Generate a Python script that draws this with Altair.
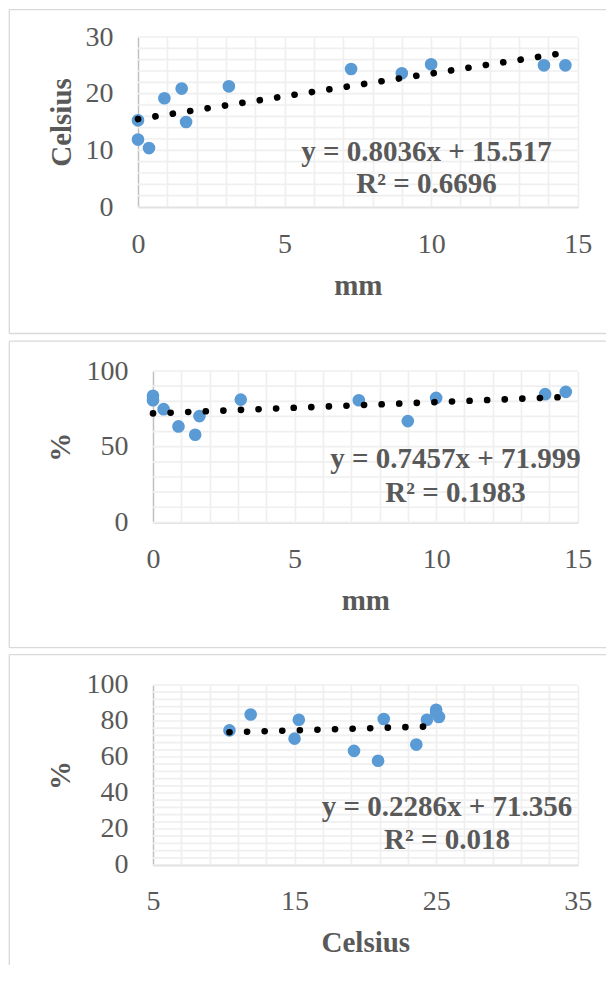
import altair as alt
import pandas as pd

# ---- data ----
mm = [0, 0, 0.375, 0.9, 1.49, 1.64, 3.1, 7.27, 9.0, 10.0, 13.85, 14.58]
celsius = [15.3, 11.9, 10.4, 19.2, 20.9, 15.0, 21.3, 24.35, 23.6, 25.2, 25.0, 25.0]
humidity = [80.7, 83.6, 74.8, 63.4, 57.9, 70.2, 81.1, 80.7, 66.9, 82.2, 84.7, 86.2]

slopes = [0.8036, 0.7457, 0.2286]
intercepts = [15.517, 71.999, 71.356]
eq_lines = [
    ["y = 0.8036x + 15.517", "R² = 0.6696"],
    ["y = 0.7457x + 71.999", "R² = 0.1983"],
    ["y = 0.2286x + 71.356", "R² = 0.018"],
]

df = pd.DataFrame({"mm": mm, "celsius": celsius, "humidity": humidity})

FONT = "Liberation Serif"
GRAY = "#595959"
BLUE = "#5B9BD5"
BOX = "#D9D9D9"
GRID = "#EFEFEF"
W = 439.7


def panel(xcol, ycol, xtitle, ytitle, xdom, ydom, xvals, yvals, xlab, ylab,
          slope, intercept, eqs, H, x0, box, eqpos, ytitle_x, bottom_rule=True):
    # x0: left edge of the plotting region inside the view
    xaxis = alt.Axis(values=xvals, labelExpr=xlab, title=xtitle, ticks=False, tickSize=0,
                     labelPadding=45, labelBaseline="alphabetic", titleY=87,
                     titleX=(x0 + W) / 2, titleBaseline="alphabetic",
                     labelOverlap=False, labelFlush=False)
    yaxis = alt.Axis(values=yvals, labelExpr=ylab, title=ytitle, ticks=False, tickSize=0,
                     labelPadding=25, titleX=ytitle_x, titleY=H / 2, titleAngle=270,
                     titleAlign="center", titleBaseline="alphabetic", grid=False,
                     offset=-x0, labelOverlap=False, labelFlush=False)
    xs = alt.Scale(domain=xdom, nice=False, zero=False, range=[x0, W])
    ys = alt.Scale(domain=ydom, nice=False, zero=False)

    hgrid = alt.Chart(pd.DataFrame({"v": yvals})).mark_rule(
        color=GRID, strokeWidth=1.7).encode(
        y=alt.Y("v:Q", scale=ys, axis=yaxis), x=alt.value(x0), x2=alt.value(W))
    pts = alt.Chart(df).mark_circle(size=160, opacity=1, color=BLUE).encode(
        x=alt.X(f"{xcol}:Q", scale=xs, axis=xaxis),
        y=alt.Y(f"{ycol}:Q", scale=ys, axis=yaxis),
    )
    trend = alt.Chart(df).transform_calculate(
        fit=f"{slope} * datum.{xcol} + {intercept}"
    ).mark_line(color="black", strokeWidth=6.6, strokeDash=[0.1, 17.5],
                strokeCap="round").encode(
        x=alt.X(f"{xcol}:Q", scale=xs, axis=xaxis),
        y=alt.Y("fit:Q", scale=ys, axis=yaxis),
        order=alt.Order(f"{xcol}:Q"),
    )
    ex, ey1, ey2 = eqpos
    t1 = alt.Chart(pd.DataFrame({"t": [eqs[0]]})).mark_text(
        font=FONT, fontSize=29, fontWeight="bold", color=GRAY, align="center",
        baseline="alphabetic").encode(text="t:N", x=alt.value(ex), y=alt.value(ey1))
    t2 = alt.Chart(pd.DataFrame({"t": [eqs[1]]})).mark_text(
        font=FONT, fontSize=29, fontWeight="bold", color=GRAY, align="center",
        baseline="alphabetic").encode(text="t:N", x=alt.value(ex), y=alt.value(ey2))

    bl, br, bt, bb = box
    one = pd.DataFrame({"k": [0]})
    rule = dict(color=BOX, strokeWidth=1.3)
    top = alt.Chart(one).mark_rule(**rule).encode(
        x=alt.value(bl), x2=alt.value(br), y=alt.value(bt))
    left = alt.Chart(one).mark_rule(**rule).encode(
        x=alt.value(bl), y=alt.value(bt), y2=alt.value(bb))
    layers = [top, left]
    if bottom_rule:
        layers.append(alt.Chart(one).mark_rule(**rule).encode(
            x=alt.value(bl), x2=alt.value(br), y=alt.value(bb)))
    return alt.layer(*layers, hgrid, pts, trend, t1, t2).properties(width=W, height=H)


BL, BR = -128.7, 468.0

p1 = panel("mm", "celsius", "mm", "Celsius", [0, 15], [0, 30],
           list(range(0, 16)), list(range(0, 31, 2)),
           "datum.value % 5 === 0 ? datum.label : ''",
           "datum.value % 10 === 0 ? datum.label : ''",
           slopes[0], intercepts[0], eq_lines[0], 170, 0,
           (BL, BR, -27.4, 296.5), (288.5, 124, 155.7), -67.7)
p2 = panel("mm", "humidity", "mm", "%", [0, 15], [0, 100],
           list(range(0, 16)), list(range(0, 101, 10)),
           "datum.value % 5 === 0 ? datum.label : ''",
           "datum.value % 50 === 0 ? datum.label : ''",
           slopes[1], intercepts[1], eq_lines[1], 151.4, 15,
           (BL, BR, -29.8, 276.7), (317.5, 97.4, 130.7), -83.7)
p3 = panel("celsius", "humidity", "Celsius", "%", [5, 35], [0, 100],
           list(range(5, 36, 2)), list(range(0, 101, 4)),
           "(datum.value - 5) % 10 === 0 ? datum.label : ''",
           "datum.value % 20 === 0 ? datum.label : ''",
           slopes[2], intercepts[2], eq_lines[2], 180, 15,
           (BL, BR, -30.3, 280.0), (309, 131, 164), -83.7, bottom_rule=False)

chart = alt.ConcatChart(concat=[p1, p2, p3], columns=1, spacing=5,
                        bounds="full").properties(padding=0, background="white").configure_view(
    stroke=None
).configure_axis(
    labelFont=FONT, labelFontSize=28, labelColor=GRAY,
    titleFont=FONT, titleFontSize=29, titleFontWeight="bold", titleColor=GRAY,
    domainColor="#BFBFBF", domainWidth=1.3,
    gridColor=GRID, gridWidth=1.7,
)

chart.save("out.html", embed_options={"renderer": "svg", "actions": False})
